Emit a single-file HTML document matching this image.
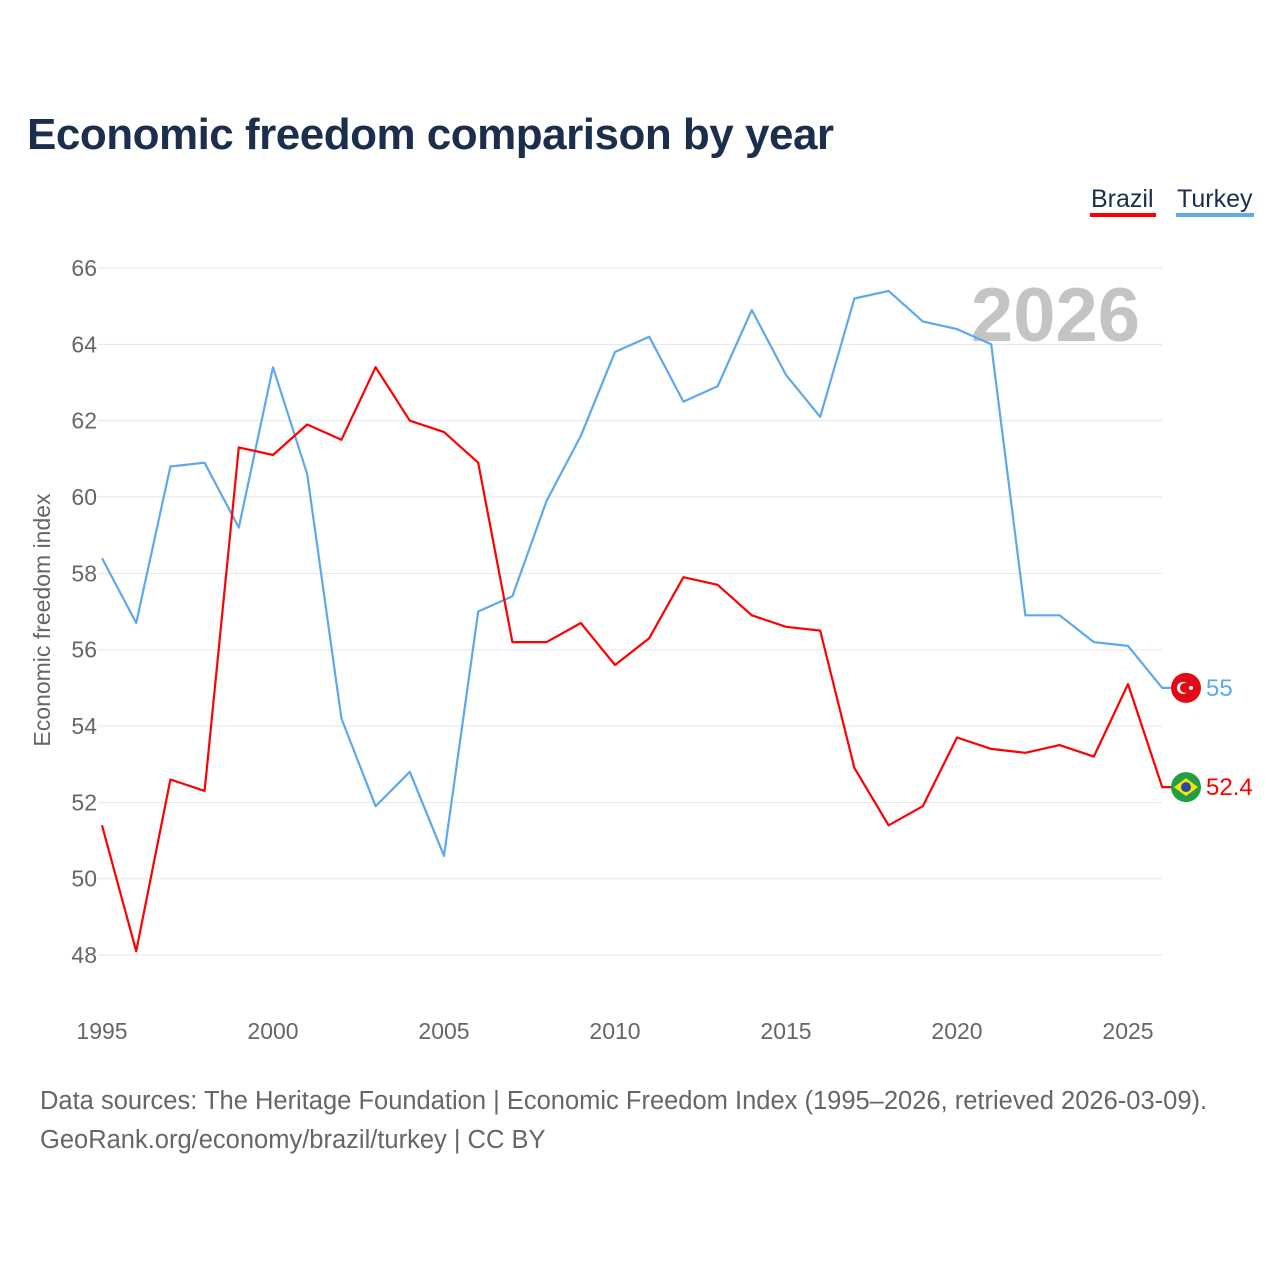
<!DOCTYPE html>
<html><head><meta charset="utf-8"><style>
body{margin:0;background:#fff;font-family:"Liberation Sans",sans-serif;}
#wrap{position:relative;width:1280px;height:1280px;overflow:hidden;}
.title{position:absolute;left:27px;top:110px;font-size:44px;font-weight:bold;color:#1b2e4b;letter-spacing:-0.5px;}
.src{position:absolute;left:40px;font-size:25.5px;color:#666;}
</style></head><body>
<div id="wrap">
<div class="title">Economic freedom comparison by year</div>
<svg id="chart" width="1280" height="1280" style="position:absolute;left:0;top:0"></svg>
<div class="src" style="top:1087px">Data sources: The Heritage Foundation | Economic Freedom Index (1995–2026, retrieved 2026-03-09).</div>
<div class="src" style="top:1126px">GeoRank.org/economy/brazil/turkey | CC BY</div>
</div>
<script>
const years=[1995,1996,1997,1998,1999,2000,2001,2002,2003,2004,2005,2006,2007,2008,2009,2010,2011,2012,2013,2014,2015,2016,2017,2018,2019,2020,2021,2022,2023,2024,2025,2026];
const brazil=[51.4,48.1,52.6,52.3,61.3,61.1,61.9,61.5,63.4,62.0,61.7,60.9,56.2,56.2,56.7,55.6,56.3,57.9,57.7,56.9,56.6,56.5,52.9,51.4,51.9,53.7,53.4,53.3,53.5,53.2,55.1,52.4];
const turkey=[58.4,56.7,60.8,60.9,59.2,63.4,60.6,54.2,51.9,52.8,50.6,57.0,57.4,59.9,61.6,63.8,64.2,62.5,62.9,64.9,63.2,62.1,65.2,65.4,64.6,64.4,64.0,56.9,56.9,56.2,56.1,55.0];
const yTicks=[48,50,52,54,56,58,60,62,64,66];
const xTicks=[1995,2000,2005,2010,2015,2020,2025];
const NS="http://www.w3.org/2000/svg";
const svg=document.getElementById('chart');
const x=v=>102+(v-1995)*34.2;
const y=v=>268+(66-v)*38.17;
function mk(t,a,txt){const e=document.createElementNS(NS,t);for(const k in a)e.setAttribute(k,a[k]);if(txt!==undefined)e.textContent=txt;svg.appendChild(e);return e;}
yTicks.forEach(t=>{
 const l=mk('line',{x1:98,x2:1162,y1:y(t),y2:y(t),stroke:'#e6e6e6','stroke-width':1});
 
 
 const tx=mk('text',{x:97,y:y(t)+8,'text-anchor':'end','font-size':23,fill:'#666'},t);
 
 
});
xTicks.forEach(t=>{
 const tx=mk('text',{x:x(t),y:1039,'text-anchor':'middle','font-size':23,fill:'#666'},t);
 
 
});
const yt=mk('text',{x:0,y:0,transform:'translate(50,620) rotate(-90)','text-anchor':'middle','font-size':23,fill:'#666'},'Economic freedom index');


const yr=mk('text',{x:1140,y:341,'text-anchor':'end','font-size':76,'font-weight':'bold',fill:'#c4c4c4'},'2026');


function series(vals,col,name){
 let d=vals.map((v,i)=>(i?'L':'M')+x(years[i]).toFixed(1)+','+y(v).toFixed(1)).join(' ');
 d+=' L1172,'+y(vals[vals.length-1]).toFixed(1);
 const p=mk('path',{d:d,fill:'none',stroke:col,'stroke-width':2.2,'stroke-linejoin':'round'});
 
 
}
series(turkey,'#5ea8ec','turkey');
series(brazil,'#ff0000','brazil');
const lt=turkey[turkey.length-1], lb=brazil[brazil.length-1];
const tc=mk('circle',{cx:1186,cy:y(lt),r:15,fill:'#e30a17'});


mk('circle',{cx:1183,cy:y(lt),r:6,fill:'#fff'});
mk('circle',{cx:1185,cy:y(lt),r:5,fill:'#e30a17'});
mk('circle',{cx:1191,cy:y(lt),r:2,fill:'#fff'});
const tl=mk('text',{x:1206,y:y(lt)+8,'font-size':24,fill:'#5ea8ec'},lt);


const bc=mk('circle',{cx:1186,cy:y(lb),r:15,fill:'#229e45'});


mk('polygon',{points:`1174,${y(lb)} 1186,${y(lb)-9} 1198,${y(lb)} 1186,${y(lb)+9}`,fill:'#f8e509'});
mk('circle',{cx:1186,cy:y(lb),r:5,fill:'#2b49a3'});
const bl=mk('text',{x:1206,y:y(lb)+8,'font-size':24,fill:'#ff0000'},lb);


const lg1=mk('text',{x:1091,y:207,'font-size':25,fill:'#1b2e4b'},'Brazil');


mk('rect',{x:1090,y:213,width:66,height:4,fill:'#ff0000'});
const lg2=mk('text',{x:1177,y:207,'font-size':25,fill:'#1b2e4b'},'Turkey');


mk('rect',{x:1176,y:213,width:78,height:4,fill:'#5ea8ec'});
</script>
</body></html>
